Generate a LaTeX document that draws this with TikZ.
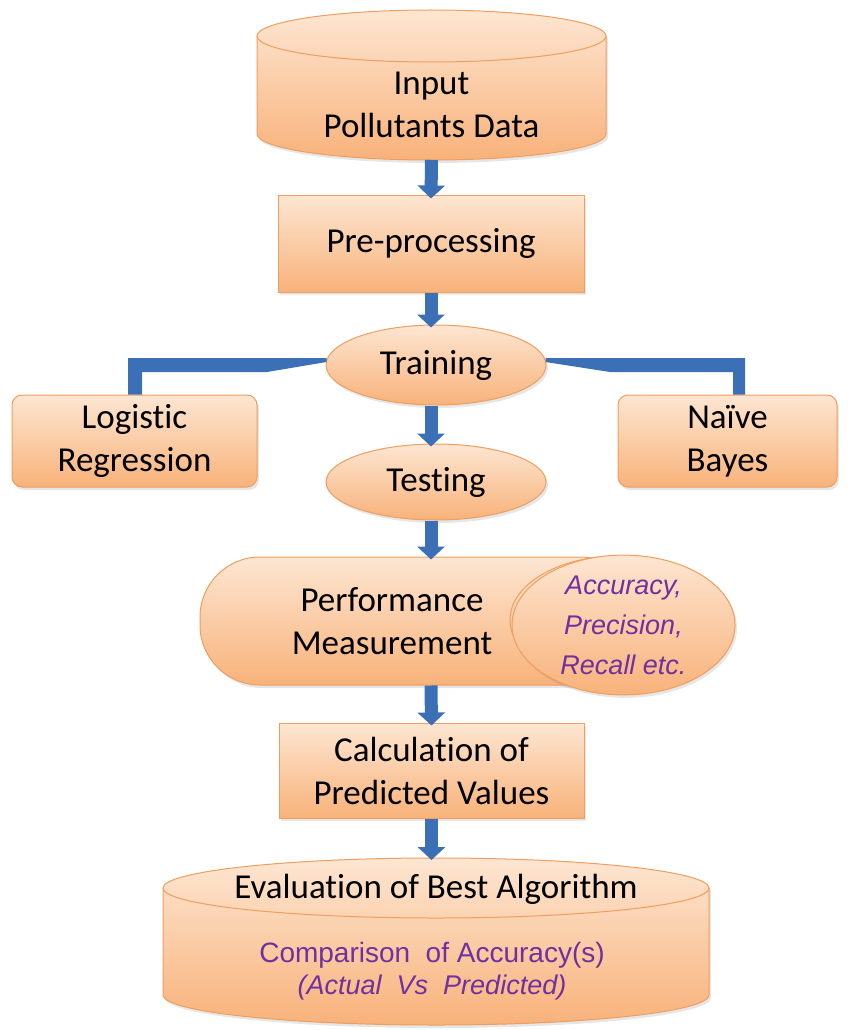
\documentclass[tikz,border=0pt]{standalone}
\usepackage{fontspec}
\setmainfont{Carlito}[Ligatures=NoCommon]
\newfontfamily\arialf{Liberation Sans}
\usetikzlibrary{arrows.meta,shapes.geometric,shadows}
\definecolor{lightor}{HTML}{FDE6D2}
\definecolor{darkor}{HTML}{F8B27A}
\definecolor{edgeor}{HTML}{EE9E5E}
\definecolor{arrblue}{HTML}{3B6FB6}
\definecolor{purp}{HTML}{7030A0}
\tikzset{
 orshade/.style={top color=lightor, bottom color=darkor, draw=edgeor, line width=1pt},
 shad/.style={drop shadow={shadow xshift=2pt,shadow yshift=-3pt,opacity=0.2}},
 boxnode/.style={orshade, shad, rectangle, inner sep=0pt},
 ellnode/.style={orshade, shad, ellipse, inner sep=0pt},
 txt/.style={font=\fontsize{35}{43}\selectfont, align=center, text=black},
 ptxt/.style={font=\arialf\itshape\fontsize{27}{40}\selectfont, align=center, text=purp},
 arr/.style={draw=arrblue, line width=13pt, -{Triangle[width=27pt,length=13pt]}},
 conn/.style={fill=arrblue, draw=none}
}
\begin{document}
\begin{tikzpicture}[x=1pt,y=-1pt]
\useasboundingbox (0,0) rectangle (851,1030);

% top cylinder
\path[orshade, shad] (257,36) -- (257,134)
  arc[start angle=180, end angle=360, x radius=174.5pt, y radius=26pt]
  -- (606,36)
  arc[start angle=0, end angle=180, x radius=174.5pt, y radius=26pt] -- cycle;
\draw[edgeor, line width=1pt] (257,36) arc[start angle=180, end angle=360, x radius=174.5pt, y radius=26pt];
\node[txt] (input) at (431.5,105) {Input\\Pollutants Data};
\coordinate (inputbot) at (431.5,160);

\node[boxnode, txt, minimum width=306pt, minimum height=97pt] (pre) at (431,243.5) {Pre-processing};

\node[ellnode, txt, minimum width=220pt, minimum height=80pt] (training) at (436,365) {Training};

\node[boxnode, txt, rounded corners=10pt, minimum width=245pt, minimum height=92pt] (logit) at (134.5,441) {Logistic\\Regression};
\node[boxnode, txt, rounded corners=10pt, minimum width=219pt, minimum height=92pt] (naive) at (727.5,441) {Naïve\\Bayes};

\node[ellnode, txt, minimum width=220pt, minimum height=76pt] (testing) at (436,482) {Testing};

\node[boxnode, rounded corners=60pt, minimum width=440pt, minimum height=128pt] (perf) at (420,621) {};
\node[txt] (perftxt) at (392,621) {Performance\\Measurement};
\node[ellnode, minimum width=216pt, minimum height=128pt] (metricback) at (618,620) {};
\node[ellnode, ptxt, minimum width=223pt, minimum height=135pt] (metric) at (623.5,625) {Accuracy,\\Precision,\\Recall etc.};

\node[boxnode, txt, minimum width=305pt, minimum height=95pt] (calc) at (431.5,770.5) {Calculation of\\Predicted Values};

% bottom cylinder
\path[orshade, shad] (163,888) -- (163,995)
  arc[start angle=180, end angle=360, x radius=273pt, y radius=30pt]
  -- (709,888)
  arc[start angle=0, end angle=180, x radius=273pt, y radius=30pt] -- cycle;
\draw[edgeor, line width=1pt] (163,888) arc[start angle=180, end angle=360, x radius=273pt, y radius=30pt];
\coordinate (evaltop) at (431.5,860);
\node[txt] (eval) at (436,889) {Evaluation of Best Algorithm};
\node[font=\arialf\fontsize{28}{32}\selectfont, text=purp] (comp) at (432,955) {Comparison\ \ of Accuracy(s)};
\node[font=\arialf\itshape\fontsize{27}{32}\selectfont, text=purp] (actual) at (432,987) {(Actual\ \ Vs\ \ Predicted)};

% arrows
\draw[arr] (inputbot) -- ([yshift=-4pt]pre.north);
\draw[arr] (pre.south) -- ([yshift=-3pt]pre.south |- training.north);
\draw[arr] (pre.south |- training.south) -- ([yshift=-3pt]pre.south |- testing.north);
\draw[arr] (pre.south |- testing.south) -- ([yshift=-3pt]pre.south |- perf.north);
\draw[arr] (pre.south |- perf.south) -- ([yshift=-3pt]calc.north);
\draw[arr] (calc.south) -- (evaltop);

% connectors (tapered bands)
\fill[conn] ([xshift=1pt,yshift=7pt]training.west) -- (128,358) -- ([xshift=-6.5pt]logit.north)
  -- ([xshift=7.5pt]logit.north) -- (142,372) -- (267,372) -- ([xshift=1pt,yshift=3pt]training.west) -- cycle;
\fill[conn] ([xshift=-1pt,yshift=7pt]training.east) -- (745,358) -- ([xshift=17.5pt]naive.north)
  -- ([xshift=5.5pt]naive.north) -- (733,372) -- (610,372) -- ([xshift=-1pt,yshift=3pt]training.east) -- cycle;
\end{tikzpicture}
\end{document}
